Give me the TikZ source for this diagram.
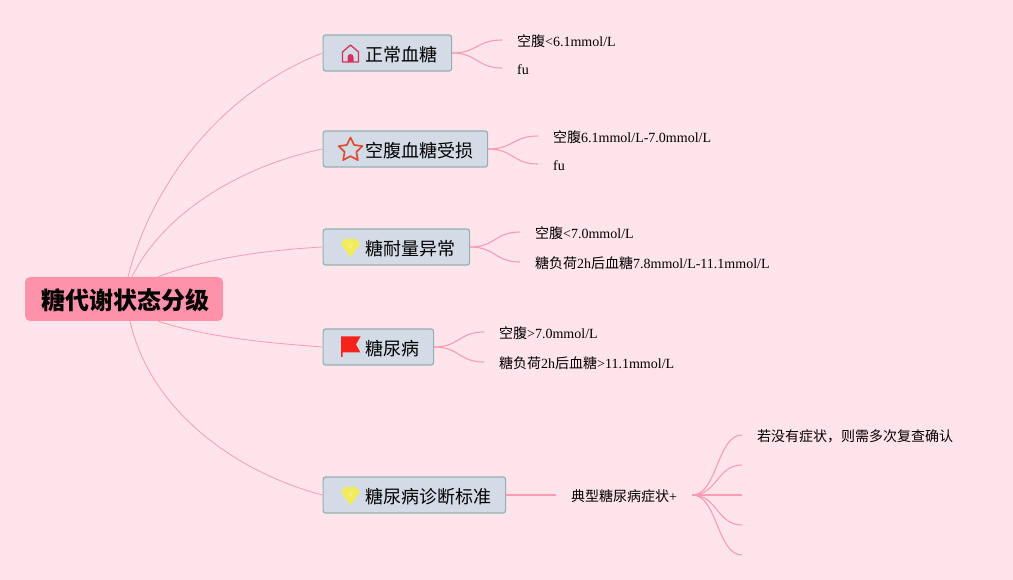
\documentclass[tikz,border=0pt]{standalone}
\usepackage{fontspec}
\setmainfont{Liberation Serif}
\newfontfamily\cjk{Noto Sans CJK SC}
\newcommand{\zh}[1]{{\cjk #1}}
\definecolor{bgpink}{RGB}{255,228,236}
\definecolor{rootpink}{RGB}{255,146,171}
\definecolor{linkpink}{RGB}{252,155,180}
\definecolor{boxfill}{RGB}{211,220,230}
\definecolor{boxline}{RGB}{147,176,174}
\definecolor{gemyellow}{RGB}{243,236,90}
\definecolor{houseicon}{RGB}{214,48,95}
\definecolor{staricon}{RGB}{224,75,53}
\definecolor{flagicon}{RGB}{245,35,28}
\tikzset{
  rootbox/.style={rectangle, rounded corners=5pt, fill=rootpink, minimum width=198pt, minimum height=44pt, inner sep=0pt, text height=20pt, text depth=0pt, font=\cjk\fontsize{24}{24}\selectfont\bfseries},
  mainbox/.style={rectangle, rounded corners=2.5pt, draw=boxline, line width=1.2pt, fill=boxfill, anchor=west, inner xsep=14.25pt, inner ysep=0pt, minimum height=36pt, text height=16.8pt, text depth=0pt, font=\cjk\fontsize{18}{18}\selectfont},
  leaf/.style={anchor=west, inner xsep=15pt, inner ysep=2pt, text height=13pt, text depth=0pt, font=\fontsize{14}{14}\selectfont},
  link/.style={draw=linkpink, line width=0.8pt},
  sublink/.style={draw=linkpink, line width=1.1pt},
  gemicon/.pic={
    \fill[gemyellow] (-5.5,-9) -- (5.5,-9) -- (9.5,-4) -- (0,9) -- (-9.5,-4) -- cycle;
    \draw[gemyellow!60!white, line width=0.5pt] (-2,-4) -- (2,-4) -- (0,0) -- cycle;
  },
  houseicon/.pic={
    \draw[houseicon, line width=1.3pt, line join=round] (-8,8) -- (-8,-2) -- (0,-9) -- (8,-2) -- (8,8) -- cycle;
    \fill[houseicon] (-3,8) -- (-3,3) arc (180:360:3) -- (3,8) -- cycle;
  },
  staricon/.pic={
    \draw[staricon, line width=1.7pt, line join=round]
      (-90:12.5) -- (-54:6.2) -- (-18:12.5) -- (18:6.2) -- (54:12.5) -- (90:6.2) -- (126:12.5) -- (162:6.2) -- (198:12.5) -- (234:6.2) -- cycle;
  },
  flagicon/.pic={
    \fill[flagicon] (-9.5,-10.5) -- (10,-10.5) -- (5.5,-2.5) -- (10,5.5) -- (-8,5.5) -- (-8,10) -- (-9.5,10) -- cycle;
  },
}
\begin{document}
\begin{tikzpicture}[x=1pt,y=-1pt]
  \useasboundingbox[fill=bgpink] (0,0) rectangle (1013,580);
  % root and the five branches
  \node[rootbox] (root) at (124,299) {\hspace*{2pt}糖代谢状态分级};
  \node[mainbox] (normal) at (322.5,53) {\hspace*{28pt}正常血糖};
  \node[mainbox] (fasting) at (322.5,149) {\hspace*{28pt}空腹血糖受损};
  \node[mainbox] (tolerance) at (322.5,247) {\hspace*{28pt}糖耐量异常};
  \node[mainbox] (diabetes) at (322.5,347) {\hspace*{28pt}糖尿病};
  \node[mainbox] (criteria) at (322.5,495) {\hspace*{28pt}糖尿病诊断标准};
  % icons
  \pic at (350.5,54) {houseicon};
  \pic at (350.5,150) {staricon};
  \pic at (350.5,248) {gemicon};
  \pic at (350.5,347) {flagicon};
  \pic at (350.5,496) {gemicon};
  % leaves
  \node[leaf] (normalA) at (502,40) {\zh{空腹}<6.1mmol/L};
  \node[leaf] (normalB) at (502,68) {fu};
  \node[leaf] (fastingA) at (538,136) {\zh{空腹}6.1mmol/L-7.0mmol/L};
  \node[leaf] (fastingB) at (538,164) {fu};
  \node[leaf] (toleranceA) at (520,232) {\zh{空腹}<7.0mmol/L};
  \node[leaf] (toleranceB) at (520,262) {\zh{糖负荷}2h\zh{后血糖}7.8mmol/L-11.1mmol/L};
  \node[leaf] (diabetesA) at (484,332) {\zh{空腹}>7.0mmol/L};
  \node[leaf] (diabetesB) at (484,362) {\zh{糖负荷}2h\zh{后血糖}>11.1mmol/L};
  \node[leaf] (symptoms) at (556,495) {\zh{典型糖尿病症状}+};
  \node[leaf] (confirm) at (742,435) {\zh{若没有症状，则需多次复查确认}};
  \coordinate (blankA) at (742,465);
  \coordinate (blankB) at (742,495);
  \coordinate (blankC) at (742,525);
  \coordinate (blankD) at (742,555);
  % root links
  \draw[link] ([xshift=4pt]root.north) .. controls (150,190) and (215,95) .. (normal.west);
  \draw[link] ([xshift=8pt]root.north) .. controls (165,210) and (245,165) .. (fasting.west);
  \draw[link] ([xshift=34pt]root.north) .. controls (210,257) and (270,250) .. (tolerance.west);
  \draw[link] ([xshift=34pt]root.south) .. controls (210,338) and (270,343) .. (diabetes.west);
  \draw[link] ([xshift=6pt]root.south) .. controls (150,410) and (235,472) .. (criteria.west);
  % leaf links
  \foreach \from/\to in {normal/normalA, normal/normalB, fasting/fastingA, fasting/fastingB, tolerance/toleranceA, tolerance/toleranceB, diabetes/diabetesA, diabetes/diabetesB, criteria/symptoms} {
    \draw[sublink] (\from.east) .. controls ([xshift=25pt]\from.east) and ([xshift=-25pt]\to.west) .. (\to.west);
  }
  \foreach \to in {confirm.west, blankA, blankB, blankC, blankD} {
    \draw[sublink] (symptoms.east) .. controls ([xshift=25pt]symptoms.east) and ([xshift=-25pt]\to) .. (\to);
  }
\end{tikzpicture}
\end{document}
